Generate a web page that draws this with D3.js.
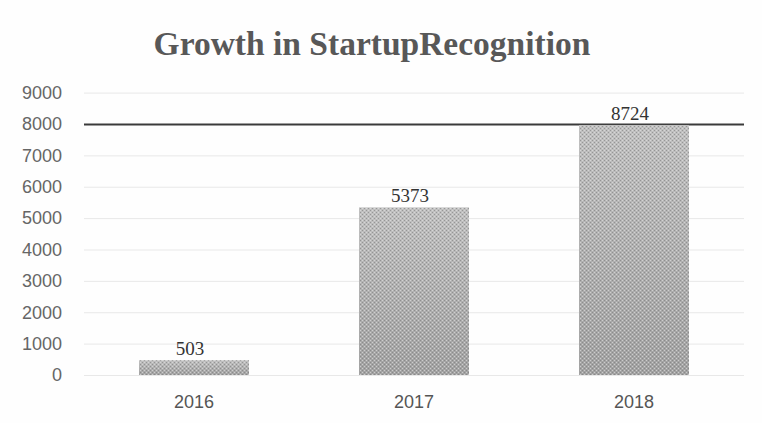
<!DOCTYPE html>
<html>
<head>
<meta charset="utf-8">
<script src="https://cdn.jsdelivr.net/npm/d3@7"></script>
<style>
  html, body { margin: 0; padding: 0; background: #fefefe; }
  svg { display: block; }
</style>
</head>
<body>
<svg id="chart" width="762" height="423"></svg>
<script>
// ---- data ----
const titleText = "Growth in StartupRecognition";
const years = ["2016", "2017", "2018"];
const recognitions = [503, 5373, 8724];
const yTicks = [0, 1000, 2000, 3000, 4000, 5000, 6000, 7000, 8000, 9000];
const yMax = 9000;
const capLine = 8000; // dark reference line; bars are cut off at it

// ---- drawing ----
const svg = d3.select("#chart");
const plot = { left: 84, right: 744, top: 92.6, bottom: 375 };

const x = d3.scaleBand().domain(years).range([plot.left, plot.right])
  .paddingInner(0.5).paddingOuter(0.25);
const y = d3.scaleLinear().domain([0, yMax]).range([plot.bottom, plot.top]);

const defs = svg.append("defs");
const grad = defs.append("linearGradient").attr("id", "barGrad")
  .attr("x1", 0).attr("y1", 0).attr("x2", 0).attr("y2", 1);
grad.append("stop").attr("offset", "0%").attr("stop-color", "#c0c0c0");
grad.append("stop").attr("offset", "100%").attr("stop-color", "#a2a2a2");

const pat = defs.append("pattern").attr("id", "dots")
  .attr("patternUnits", "userSpaceOnUse").attr("width", 4).attr("height", 4);
pat.append("rect").attr("x", 0).attr("y", 0).attr("width", 1).attr("height", 1).attr("fill", "#6f6f6f").attr("opacity", 0.5);
pat.append("rect").attr("x", 2).attr("y", 2).attr("width", 1).attr("height", 1).attr("fill", "#6f6f6f").attr("opacity", 0.5);
pat.append("rect").attr("x", 2).attr("y", 0).attr("width", 1).attr("height", 1).attr("fill", "#e6e6e6").attr("opacity", 0.6);
pat.append("rect").attr("x", 0).attr("y", 2).attr("width", 1).attr("height", 1).attr("fill", "#e6e6e6").attr("opacity", 0.6);

// title
svg.append("text")
  .attr("x", 372).attr("y", 55)
  .attr("text-anchor", "middle")
  .attr("font-family", "'Liberation Serif', 'Times New Roman', serif")
  .attr("font-weight", "bold")
  .attr("font-size", 33.5)
  .attr("fill", "#585858")
  .text(titleText);

// gridlines + y labels
const yAxis = d3.axisLeft(y).tickValues(yTicks).tickFormat(d3.format("d"))
  .tickSize(-(plot.right - plot.left)).tickPadding(22);
const gy = svg.append("g").attr("transform", `translate(${plot.left},0)`).call(yAxis);
gy.select(".domain").remove();
gy.selectAll(".tick line")
  .attr("stroke", d => d === capLine ? "#3a3a3a" : "#e8e8e8")
  .attr("stroke-width", d => d === capLine ? 2 : 1);
gy.selectAll(".tick text")
  .attr("font-family", "'Liberation Sans', Arial, sans-serif")
  .attr("font-size", 18)
  .attr("fill", "#666");

// bars
const data = years.map((k, i) => ({ year: k, value: recognitions[i] }));
const shown = d => Math.min(d.value, capLine);
const bars = svg.append("g");
bars.selectAll("rect.bar").data(data).join("rect").attr("class", "bar")
  .attr("x", d => x(d.year)).attr("width", x.bandwidth())
  .attr("y", d => y(shown(d)) + 1).attr("height", d => y(0) - y(shown(d)) - 1)
  .attr("fill", "url(#barGrad)");
bars.selectAll("rect.tex").data(data).join("rect").attr("class", "tex")
  .attr("x", d => x(d.year)).attr("width", x.bandwidth())
  .attr("y", d => y(shown(d)) + 1).attr("height", d => y(0) - y(shown(d)) - 1)
  .attr("fill", "url(#dots)");

// value labels
svg.append("g").selectAll("text").data(data).join("text")
  .attr("x", d => x(d.year) + x.bandwidth() / 2 - 4)
  .attr("y", d => y(shown(d)) - 4)
  .attr("text-anchor", "middle")
  .attr("font-family", "'Liberation Serif', 'Times New Roman', serif")
  .attr("font-size", 19)
  .attr("fill", "#333")
  .text(d => d.value);

// x axis labels
const xAxis = d3.axisBottom(x).tickSize(0).tickPadding(20);
const gx = svg.append("g").attr("transform", `translate(0,${plot.bottom})`).call(xAxis);
gx.select(".domain").remove();
gx.selectAll(".tick text")
  .attr("font-family", "'Liberation Sans', Arial, sans-serif")
  .attr("font-size", 18)
  .attr("fill", "#555");
</script>
</body>
</html>
